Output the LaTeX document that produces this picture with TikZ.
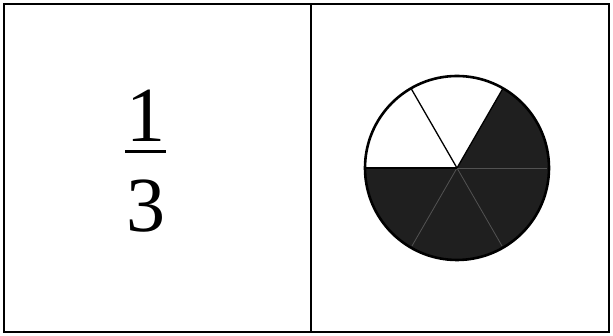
\documentclass[tikz,border=0pt]{standalone}
\usepackage{fontspec}
\setmainfont{Liberation Serif}

\begin{document}
\begin{tikzpicture}[
    x=1pt, y=1pt, every node/.style={inner sep=0pt, outer sep=0pt},
    frame/.style={draw, rectangle, line width=1.8pt, anchor=south west},
    digit/.style={anchor=base, font=\fontsize{78}{78}\selectfont},
    spoke/.style={line width=1.3pt},
    faint/.style={line width=0.8pt, draw=black!68}
]
\useasboundingbox (0,0) rectangle (613,336);
\node (fraction_box) [frame, minimum width=307pt, minimum height=328pt] at (4,4) {};
\node (pie_box) [frame, minimum width=298pt, minimum height=328pt] at (311,4) {};

% the fraction
\node (numerator) [digit] at (146,194) {1};
\node (denominator) [digit] at (146,104) {3};
\draw[line width=3pt] (125,184) -- (166,184);

% the pie, two of six parts left white
\coordinate (pie_center) at (457,168);
\fill[black!88] (pie_center) -- ++(180:92) arc[start angle=180, end angle=420, radius=92] -- cycle;
\foreach \a in {0,240,300} \draw[faint] (pie_center) -- ++(\a:90);
\foreach \a in {60,120,180} \draw[spoke] (pie_center) -- ++(\a:92);
\node (pie) [circle, draw, line width=2.6pt, minimum size=184pt] at (pie_center) {};
\end{tikzpicture}
\end{document}
